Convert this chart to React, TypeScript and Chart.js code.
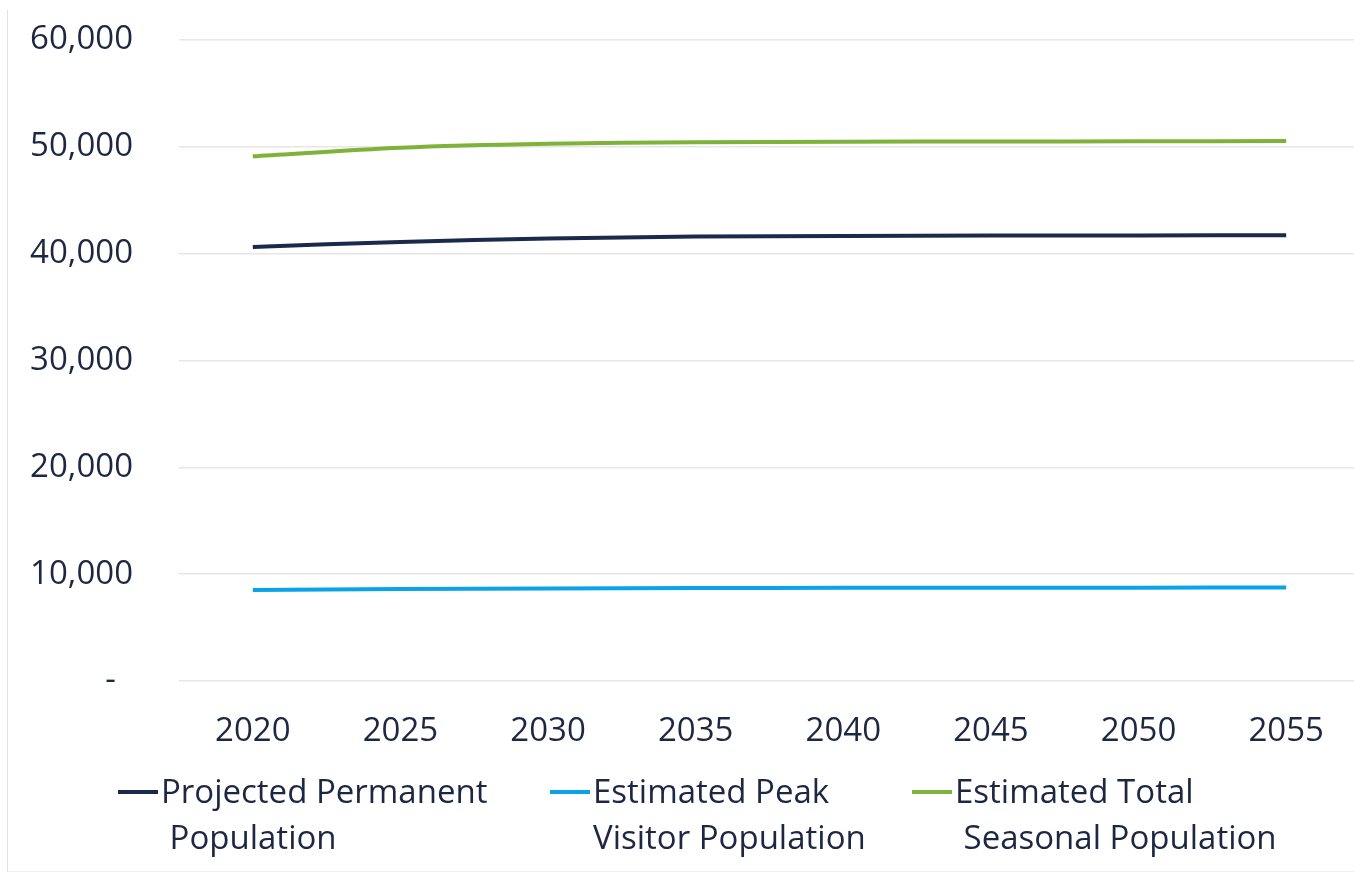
import React, { useEffect, useRef } from "react";
import { Chart, registerables } from "chart.js";

Chart.register(...registerables);

// Projection years
const years = ["2020", "2025", "2030", "2035", "2040", "2045", "2050", "2055"];

// Population series
const permanentPopulation = [40630, 41100, 41410, 41600, 41650, 41690, 41710, 41720];
const peakVisitorPopulation = [8510, 8600, 8660, 8700, 8720, 8730, 8740, 8750];
const totalSeasonalPopulation = [49110, 49920, 50290, 50420, 50480, 50500, 50520, 50540];

// Legend text, wrapped as in the report layout
const seriesLabels = [
  ["Projected Permanent", " Population"],
  ["Estimated Peak", "Visitor Population"],
  ["Estimated Total", " Seasonal Population"],
];

const seriesColors = ["#1b2a4c", "#0ba3e6", "#7fb23a"];

const TEXT_COLOR = "#1d2742";
const FONT_FAMILY = "'Open Sans', sans-serif";
const FONT_SIZE = 33;

// Draws the wrapped legend below the axis
const wrappedLegend = {
  id: "wrappedLegend",
  afterDraw(chart: any) {
    const { ctx } = chart;
    const itemX = [118, 550, 912];
    const markerY = 792;
    const textY = 794;
    const lineGap = 46;
    ctx.save();
    ctx.font = `${FONT_SIZE}px ${FONT_FAMILY}`;
    ctx.textBaseline = "middle";
    ctx.textAlign = "left";
    chart.data.datasets.forEach((ds: any, i: number) => {
      const x = itemX[i];
      ctx.strokeStyle = ds.borderColor;
      ctx.lineWidth = 4;
      ctx.beginPath();
      ctx.moveTo(x, markerY);
      ctx.lineTo(x + 40, markerY);
      ctx.stroke();
      ctx.fillStyle = TEXT_COLOR;
      const lines: string[] = ds.legendLines;
      lines.forEach((t, j) => {
        ctx.fillText(t, x + 43, textY + j * lineGap);
      });
    });
    ctx.restore();
  },
};

export default function App() {
  const canvasRef = useRef<HTMLCanvasElement | null>(null);

  useEffect(() => {
    if (!canvasRef.current) return;
    const series = [permanentPopulation, peakVisitorPopulation, totalSeasonalPopulation];
    const chart = new Chart(canvasRef.current, {
      type: "line",
      data: {
        labels: years,
        datasets: series.map((values, i) => ({
          label: seriesLabels[i].join(" ").replace(/\s+/g, " "),
          legendLines: seriesLabels[i],
          data: values,
          borderColor: seriesColors[i],
          backgroundColor: seriesColors[i],
          borderWidth: 4,
          pointRadius: 0,
          pointHoverRadius: 0,
          tension: 0.3,
          fill: false,
        })) as any,
      },
      options: {
        animation: false,
        responsive: true,
        maintainAspectRatio: false,
        layout: { padding: { top: 40, right: 4, bottom: 123, left: 0 } },
        plugins: {
          legend: { display: false },
          tooltip: { enabled: false },
        },
        scales: {
          x: {
            type: "category",
            offset: true,
            grid: { display: false, drawTicks: false },
            border: { display: false },
            ticks: {
              color: TEXT_COLOR,
              font: { family: FONT_FAMILY, size: FONT_SIZE },
              padding: 31,
              maxRotation: 0,
              autoSkip: false,
            },
            afterFit(scale: any) {
              scale.height = 70;
              scale.paddingTop = 0;
              scale.paddingBottom = 0;
            },
          },
          y: {
            min: 0,
            max: 60000,
            grid: { color: "#e6e6e6", lineWidth: 1.5, drawTicks: false },
            border: { display: false },
            ticks: {
              stepSize: 10000,
              color: TEXT_COLOR,
              font: { family: FONT_FAMILY, size: FONT_SIZE },
              padding: 46,
              callback: (v: any) =>
                Number(v) === 0 ? "-  " : Number(v).toLocaleString("en-US"),
            },
            afterFit(scale: any) {
              scale.width = 179;
              scale.paddingTop = 0;
              scale.paddingBottom = 0;
            },
          },
        },
      },
      plugins: [wrappedLegend],
    });
    return () => chart.destroy();
  }, []);

  return (
    <div
      style={{
        position: "fixed",
        left: 0,
        top: 0,
        width: 1354,
        height: 874,
        overflow: "hidden",
        background: "#ffffff",
      }}
    >
      <div
        style={{
          position: "absolute",
          left: 7,
          top: 10,
          bottom: 2,
          width: 1350,
          borderLeft: "1.5px solid #e2e2e2",
          borderBottom: "1px solid #f0f0f0",
        }}
      />
      <div style={{ position: "absolute", left: 0, top: 0, width: 1364, height: 874 }}>
        <canvas ref={canvasRef} />
      </div>
    </div>
  );
}
